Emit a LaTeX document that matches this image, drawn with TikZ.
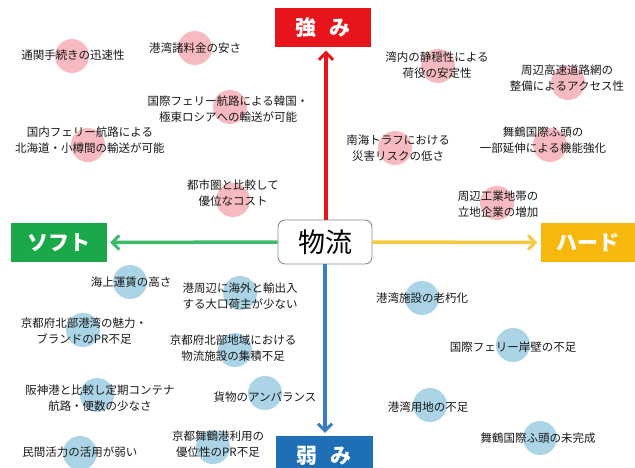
\documentclass[tikz,border=0pt]{standalone}
\usepackage{fontspec}
\setmainfont{Noto Sans CJK JP}
\usetikzlibrary{arrows.meta}
\definecolor{kred}{HTML}{E8141B}
\definecolor{kgreen}{HTML}{1BA84B}
\definecolor{kgreenline}{HTML}{3DBB6B}
\definecolor{kyellow}{HTML}{F6B80F}
\definecolor{kyellowline}{HTML}{F7C842}
\definecolor{kblue}{HTML}{1F6FB7}
\definecolor{kblueline}{HTML}{3A7EBF}
\definecolor{kpink}{HTML}{F6BAC0}
\definecolor{klightblue}{HTML}{ABD4E6}
\tikzset{
  pinkdot/.style={circle, fill=kpink, minimum size=34pt, inner sep=0},
  bluedot/.style={circle, fill=klightblue, minimum size=34pt, inner sep=0},
  item/.style={font=\fontsize{11.5}{16.5}\selectfont, align=center, inner sep=0, text=black!90},
  label/.style={font=\fontsize{21}{21}\selectfont\bfseries, text=white, minimum height=39pt, inner sep=0},
  axis/.style={line width=3.5pt, -{Straight Barb[length=7pt,width=14pt,line width=3pt]}},
}
\begin{document}
\begin{tikzpicture}[x=1pt,y=-1pt]
\useasboundingbox (0,0) rectangle (635,468);
\fill[white] (0,0) rectangle (635,468);

% dots (strengths)
\node[pinkdot] (d1) at (72,56) {};
\node[pinkdot] (d2) at (195,48) {};
\node[pinkdot] (d3) at (230,107) {};
\node[pinkdot] (d4) at (88,145) {};
\node[pinkdot] (d5) at (233,200) {};
\node[pinkdot] (d6) at (438,66) {};
\node[pinkdot] (d7) at (568,83) {};
\node[pinkdot] (d8) at (395,148) {};
\node[pinkdot] (d9) at (550,145) {};
\node[pinkdot] (d10) at (497,203) {};
% dots (weaknesses)
\node[bluedot] (w1) at (130,282) {};
\node[bluedot] (w2) at (240,293) {};
\node[bluedot] (w3) at (83,330) {};
\node[bluedot] (w4) at (235,350) {};
\node[bluedot] (w5) at (422,298) {};
\node[bluedot] (w6) at (513,345) {};
\node[bluedot] (w7) at (97,395) {};
\node[bluedot] (w8) at (265,393) {};
\node[bluedot] (w9) at (80,453) {};
\node[bluedot] (w10) at (213,447) {};
\node[bluedot] (w11) at (430,405) {};
\node[bluedot] (w12) at (540,438) {};

% texts (strengths)
\node[item] (s1) at (73,55) {通関手続きの迅速性};
\node[item] (s2) at (195,48) {港湾諸料金の安さ};
\node[item] (s3) at (228,109) {国際フェリー航路による韓国・\\極東ロシアへの輸送が可能};
\node[item] (s4) at (90,140) {国内フェリー航路による\\北海道・小樽間の輸送が可能};
\node[item] (s5) at (233,193) {都市圏と比較して\\優位なコスト};
\node[item] (s6) at (437,65) {湾内の静穏性による\\荷役の安定性};
\node[item] (s7) at (567,78) {周辺高速道路網の\\整備によるアクセス性};
\node[item] (s8) at (398,148) {南海トラフにおける\\災害リスクの低さ};
\node[item] (s9) at (543,140) {舞鶴国際ふ頭の\\一部延伸による機能強化};
\node[item] (s10) at (498,204) {周辺工業地帯の\\立地企業の増加};

% texts (weaknesses)
\node[item] (t1) at (131,282) {海上運賃の高さ};
\node[item] (t2) at (240,296) {港周辺に海外と輸出入\\する大口荷主が少ない};
\node[item] (t3) at (84,331) {京都府北部港湾の魅力・\\ブランドのPR不足};
\node[item] (t4) at (233,348) {京都府北部地域における\\物流施設の集積不足};
\node[item] (t5) at (422,298) {港湾施設の老朽化};
\node[item] (t6) at (513,347) {国際フェリー岸壁の不足};
\node[item] (t7) at (100,398) {阪神港と比較し定期コンテナ\\航路・便数の少なさ};
\node[item] (t8) at (265,397) {貨物のアンバランス};
\node[item] (t9) at (80,452) {民間活力の活用が弱い};
\node[item] (t10) at (218,444) {京都舞鶴港利用の\\優位性のPR不足};
\node[item] (t11) at (428,407) {港湾用地の不足};
\node[item] (t12) at (538,438) {舞鶴国際ふ頭の未完成};

% category boxes
\node[label, fill=kred, minimum width=96pt] (strong) at (323,28) {強\hspace{14pt}み};
\node[label, fill=kgreen, minimum width=96pt] (soft) at (59,242.5) {ソフト};
\node[label, fill=kyellow, minimum width=95pt] (hard) at (588,242.5) {ハード};
\node[label, fill=kblue, minimum width=97pt, minimum height=40pt] (weak) at (324,456) {弱\hspace{14pt}み};

% center
\node[draw=black!45, line width=0.9pt, fill=white, rounded corners=7pt, minimum width=94pt, minimum height=44pt,
      font=\fontsize{27}{27}\selectfont, inner sep=0] (center) at (325,242) {物流};

% arrows
\draw[axis, kred] ([xshift=1pt]center.north) -- ([xshift=1pt,yshift=-3pt]strong.south -| center.north);
\draw[axis, kgreenline] (center.west) -- ([xshift=3pt]soft.east);
\draw[axis, kyellowline] (center.east) -- ([xshift=-3pt]hard.west);
\draw[axis, kblueline] (center.south) -- ([yshift=3pt]weak.north -| center.south);
\end{tikzpicture}
\end{document}
